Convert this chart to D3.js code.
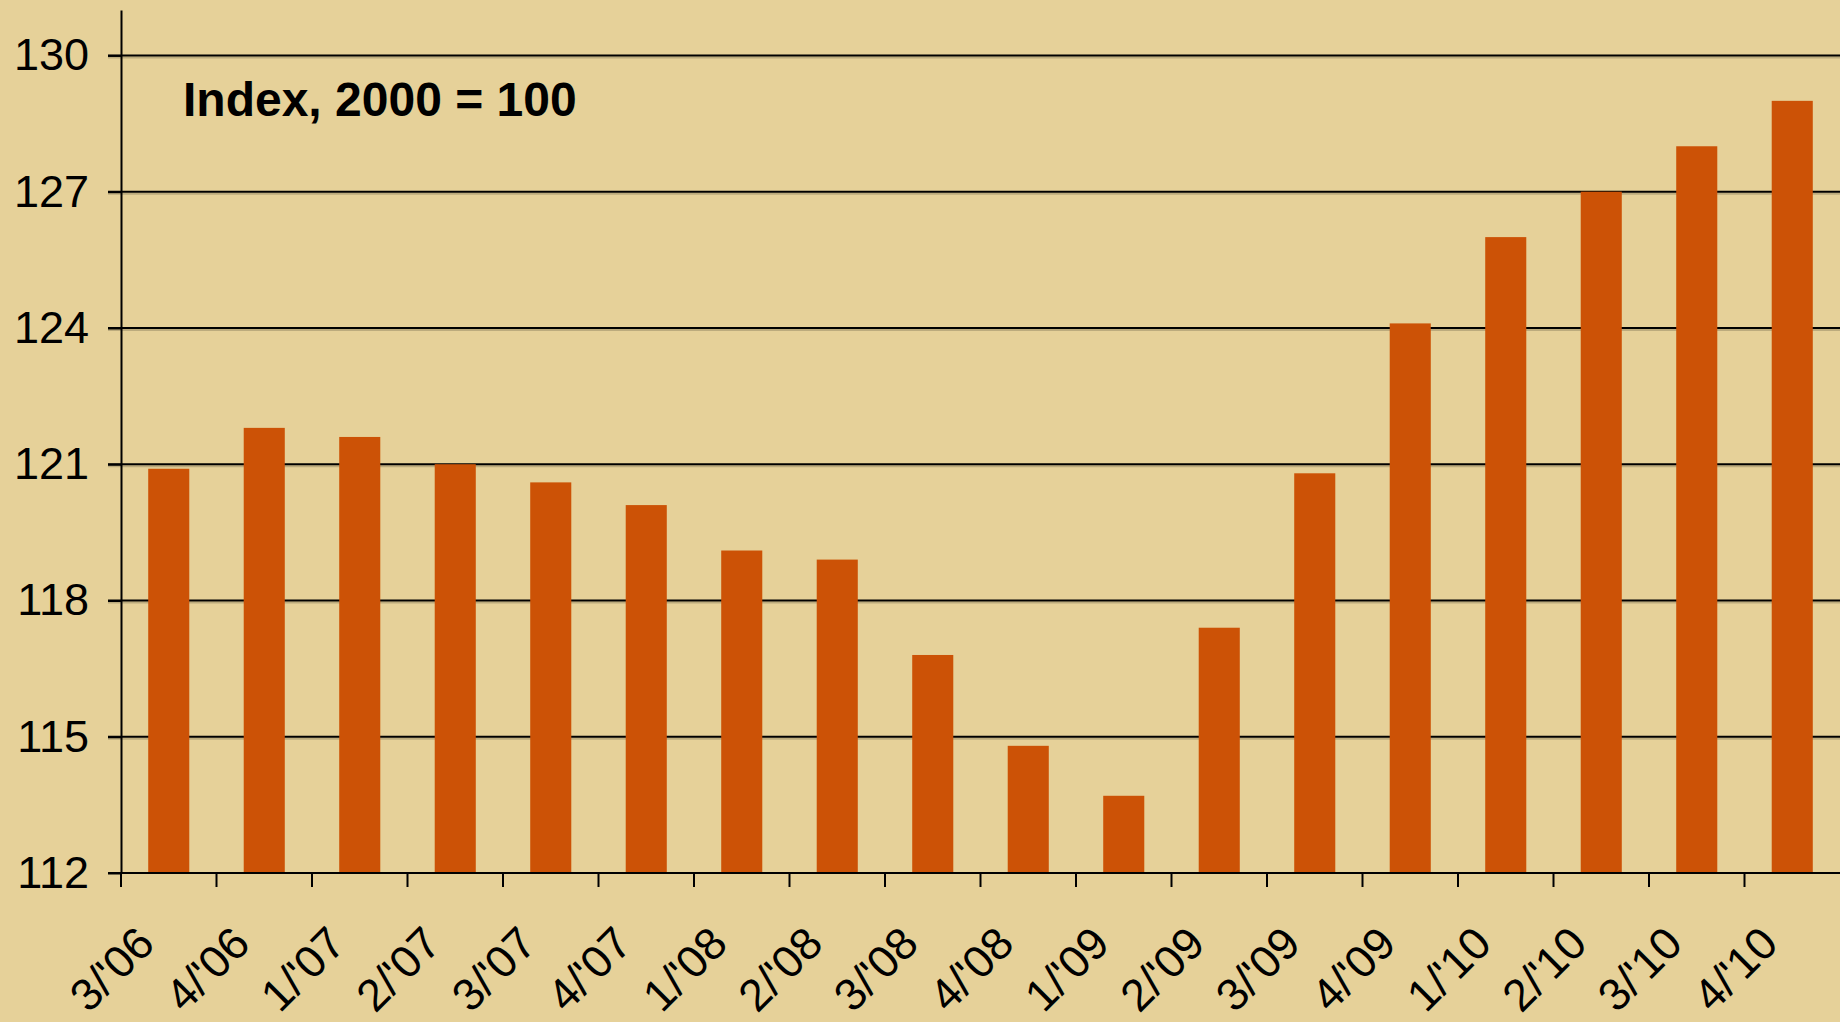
<!DOCTYPE html>
<html>
<head>
<meta charset="utf-8">
<script src="https://cdn.jsdelivr.net/npm/d3@7"></script>
<style>
	body { margin: 0; padding: 0; background: #E6D199; }
	svg { display: block; }
</style>
</head>
<body>
<div id="chart"></div>
<script>
// Quarters shown on the category axis
var quarters = ["3/'06", "4/'06", "1/'07", "2/'07", "3/'07", "4/'07", "1/'08", "2/'08", "3/'08",
	"4/'08", "1/'09", "2/'09", "3/'09", "4/'09", "1/'10", "2/'10", "3/'10", "4/'10"];
// Index values, 2000 = 100
var indexValues = [120.9, 121.8, 121.6, 121.0, 120.6, 120.1, 119.1, 118.9, 116.8,
	114.8, 113.7, 117.4, 120.8, 124.1, 126.0, 127.0, 128.0, 129.0];
// Value axis
var yTicks = [112, 115, 118, 121, 124, 127, 130];
var yDomain = [112, 131];
var chartTitle = 'Index, 2000 = 100';

/***********************************************************
  Start: Setup
***********************************************************/
var width = 1840;
var height = 1022;
var margin = { top: 10, right: 0, bottom: 149, left: 121 };
var bg = '#E6D199';
var barColor = '#CC5206';
var font = "'Liberation Sans', Arial, sans-serif";

var svg = d3.select('#chart').append('svg')
	.attr('width', width)
	.attr('height', height);

svg.append('rect')
	.attr('width', width)
	.attr('height', height)
	.attr('fill', bg);

var x = d3.scaleBand()
	.domain(quarters)
	.range([margin.left, width - margin.right])
	.paddingInner(0.57)
	.paddingOuter(0.285);

var y = d3.scaleLinear()
	.domain(yDomain)
	.range([height - margin.bottom, margin.top]);
/***********************************************************
  End: Setup
***********************************************************/

// Gridlines (with a faint shadow underneath like the original)
var grid = svg.append('g');
yTicks.forEach(function(t) {
	if (t == yDomain[0]) return;
	grid.append('line')
		.attr('x1', margin.left - 13)
		.attr('x2', width)
		.attr('y1', y(t) + 2)
		.attr('y2', y(t) + 2)
		.attr('stroke', 'rgba(0,0,0,0.18)')
		.attr('stroke-width', 2);
	grid.append('line')
		.attr('x1', margin.left - 13)
		.attr('x2', width)
		.attr('y1', y(t))
		.attr('y2', y(t))
		.attr('stroke', '#000')
		.attr('stroke-width', 2);
});

// Bars
svg.append('g').selectAll('rect')
	.data(indexValues)
	.enter().append('rect')
	.attr('x', function(d, i) { return x(quarters[i]); })
	.attr('y', function(d) { return y(d); })
	.attr('width', x.bandwidth())
	.attr('height', function(d) { return y(yDomain[0]) - y(d); })
	.attr('fill', barColor);

// Y axis
var yAxis = svg.append('g')
	.attr('transform', 'translate(' + margin.left + ',0)')
	.call(d3.axisLeft(y).tickValues(yTicks).tickSize(13).tickSizeOuter(0).tickPadding(19).tickFormat(d3.format('d')));
yAxis.select('.domain').attr('stroke', '#000').attr('stroke-width', 2);
yAxis.selectAll('.tick line').attr('stroke', '#000').attr('stroke-width', 2);
yAxis.selectAll('.tick text')
	.attr('fill', '#000')
	.style('font-family', font)
	.style('font-size', '45px');

// X axis: baseline, ticks between categories, rotated labels
var base = y(yDomain[0]);
var gap = (x.step() - x.bandwidth()) / 2;
var xAxis = svg.append('g');
xAxis.append('line')
	.attr('x1', margin.left - 13)
	.attr('x2', width)
	.attr('y1', base)
	.attr('y2', base)
	.attr('stroke', '#000')
	.attr('stroke-width', 2);
quarters.forEach(function(q) {
	var bx = x(q) - gap;
	xAxis.append('line')
		.attr('x1', bx)
		.attr('x2', bx)
		.attr('y1', base)
		.attr('y2', base + 14)
		.attr('stroke', '#000')
		.attr('stroke-width', 2);
	var cx = x(q) + x.bandwidth() / 2 - 12;
	xAxis.append('text')
		.text(q)
		.attr('text-anchor', 'end')
		.attr('transform', 'translate(' + cx + ',' + (base + 73) + ') rotate(-45)')
		.style('font-family', font)
		.style('font-size', '45px')
		.attr('fill', '#000');
});

// Title inside plot
svg.append('text')
	.text(chartTitle)
	.attr('x', 183)
	.attr('y', 116)
	.style('font-family', font)
	.style('font-size', '48px')
	.style('font-weight', 'bold')
	.attr('fill', '#000');
</script>
</body>
</html>
